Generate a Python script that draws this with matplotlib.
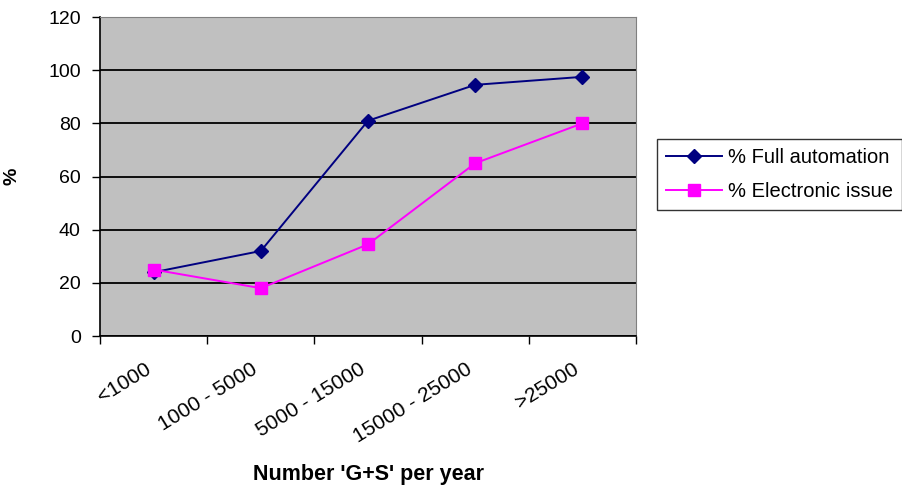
import matplotlib.pyplot as plt

categories = ["<1000", "1000 - 5000", "5000 - 15000", "15000 - 25000", ">25000"]
full_automation = [24, 32, 81, 94.5, 97.5]
electronic_issue = [25, 18, 34.5, 65, 80]

plt.rcParams['font.family'] = ['Liberation Sans', 'DejaVu Sans']

fig = plt.figure(figsize=(9.02, 4.87), dpi=100)
ax = fig.add_axes([0.111, 0.31, 0.594, 0.655])
ax.set_facecolor('#C0C0C0')

x = list(range(len(categories)))
ax.plot(x, full_automation, color='#000080', marker='D', markersize=7,
        linewidth=1.4, label='% Full automation', zorder=3)
ax.plot(x, electronic_issue, color='#FF00FF', marker='s', markersize=8,
        linewidth=1.4, label='% Electronic issue', zorder=3)

ax.set_xlim(-0.5, len(categories) - 0.5)
ax.set_ylim(0, 120)
ax.set_yticks(range(0, 121, 20))
ax.yaxis.grid(True, color='black', linewidth=1.3)
ax.set_axisbelow(True)

# tick marks on the category boundaries; rotated labels end just left of each centre
ax.set_xticks([i - 0.5 for i in range(len(categories) + 1)])
ax.set_xticklabels([])
ax.set_xticks([i - 0.09 for i in x], minor=True)
ax.set_xticklabels(categories, minor=True, rotation=31.5, ha='right', va='top',
                   rotation_mode='anchor', fontsize=15)
ax.tick_params(axis='x', which='minor', length=0, pad=17)
ax.tick_params(axis='x', which='major', length=6, width=1, direction='out')
ax.tick_params(axis='y', length=6, width=1, labelsize=14, pad=8, direction='out')

for side in ['top', 'right']:
    ax.spines[side].set_color('#808080')
for side in ['left', 'bottom']:
    ax.spines[side].set_color('black')
    ax.spines[side].set_linewidth(1.2)

ax.set_ylabel('%', fontsize=14, fontweight='bold')
ax.yaxis.set_label_coords(-0.149, 0.5)
ax.set_xlabel("Number 'G+S' per year", fontsize=15.5, fontweight='bold')
ax.xaxis.set_label_coords(0.5, -0.40)

leg = fig.legend(loc='center left', bbox_to_anchor=(0.728, 0.642), fontsize=14.5,
                 frameon=True, fancybox=False, edgecolor='black',
                 handlelength=2.8, handletextpad=0.3, borderpad=0.45,
                 labelspacing=0.75, borderaxespad=0)
leg.get_frame().set_linewidth(1)

fig.savefig('out.png', dpi=100)
